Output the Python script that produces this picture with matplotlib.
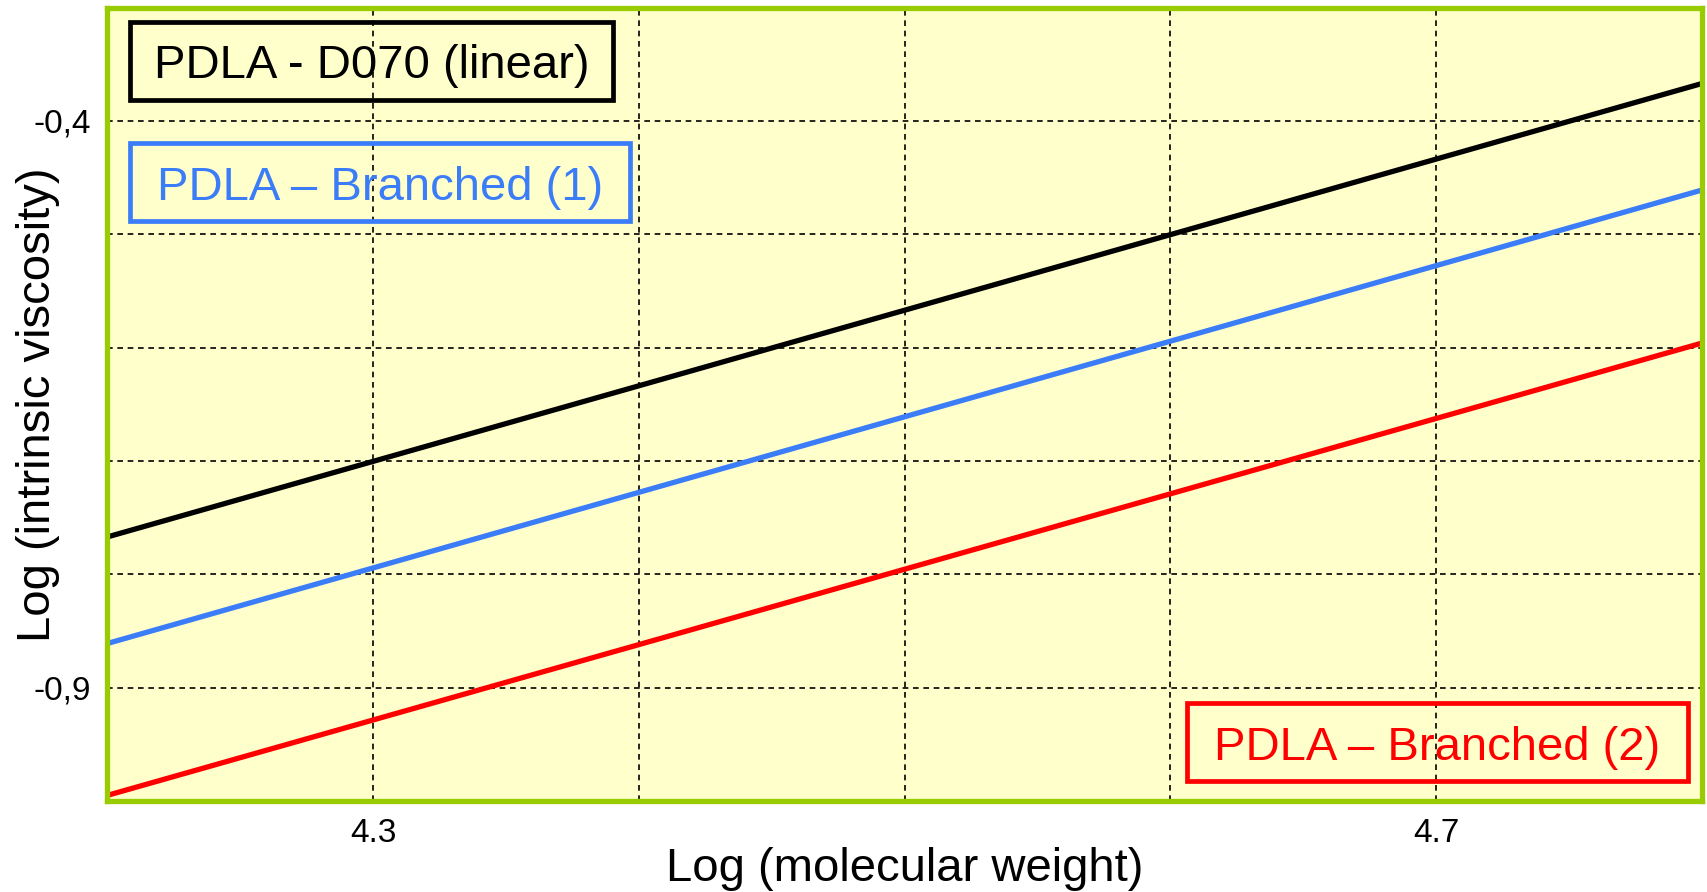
import matplotlib.pyplot as plt
import numpy as np
from matplotlib.patches import Rectangle

plt.rcParams['font.family'] = ['Liberation Sans', 'DejaVu Sans']

# data: Mark-Houwink lines, log(M) vs log([eta])
log_mw = [4.2, 4.8]
linear = [-0.767, -0.367]
branched_1 = [-0.861, -0.461]
branched_2 = [-0.995, -0.596]

series_names = ['PDLA - D070 (linear)', 'PDLA \u2013 Branched (1)', 'PDLA \u2013 Branched (2)']
series_colors = ['black', '#3B7CF8', '#FF0000']

x_ticks = [4.2, 4.3, 4.4, 4.5, 4.6, 4.7, 4.8]
x_labels = ['', '4.3', '', '', '', '4.7', '']
y_ticks = [-1.0, -0.9, -0.8, -0.7, -0.6, -0.5, -0.4, -0.3]
y_labels = ['', '-0,9', '', '', '', '', '-0,4', '']

fig = plt.figure(figsize=(17.08, 8.92), dpi=100)
ax = fig.add_axes([0.0629, 0.102, 0.9335, 0.8895])
ax.set_facecolor('#FFFFCC')

# grid under the lines
ax.set_axisbelow(True)
ax.grid(True, color='black', linestyle=(0, (3.4, 2.8)), linewidth=1.2)

for ys, c in zip([linear, branched_1, branched_2], series_colors):
    ax.plot(log_mw, ys, color=c, linewidth=3.8, solid_capstyle='butt')

ax.set_xlim(4.2, 4.8)
ax.set_ylim(-1.0, -0.3)
ax.set_xticks(x_ticks)
ax.set_xticklabels(x_labels)
ax.set_yticks(y_ticks)
ax.set_yticklabels(y_labels)
ax.tick_params(length=0, labelsize=24, pad=12)

for s in ax.spines.values():
    s.set_color('#99CC00')
    s.set_linewidth(3.8)
    s.set_zorder(5)

ax.set_xlabel('Log (molecular weight)', fontsize=34)
ax.xaxis.label.set_va('center')
ax.xaxis.set_label_coords(0.5, -0.086)
ax.set_ylabel('Log (intrinsic viscosity)', fontsize=34)
ax.yaxis.label.set_va('center')
ax.yaxis.set_label_coords(-0.0436, 0.5)

# legend-like boxes (axes fraction)
boxes = [(0.0141, 0.8835, 0.317, 0.982),
         (0.0141, 0.731, 0.3277, 0.8293),
         (0.677, 0.0252, 0.9912, 0.1235)]
for (x0, y0, x1, y1), name, c in zip(boxes, series_names, series_colors):
    ax.add_patch(Rectangle((x0, y0), x1 - x0, y1 - y0, transform=ax.transAxes,
                           facecolor='none', edgecolor=c, linewidth=3.4, zorder=6))
    ax.text((x0 + x1) / 2, (y0 + y1) / 2 - 0.007, name, transform=ax.transAxes,
            ha='center', va='center', fontsize=34, color=c, zorder=7)

fig.savefig('out.png', dpi=100)
